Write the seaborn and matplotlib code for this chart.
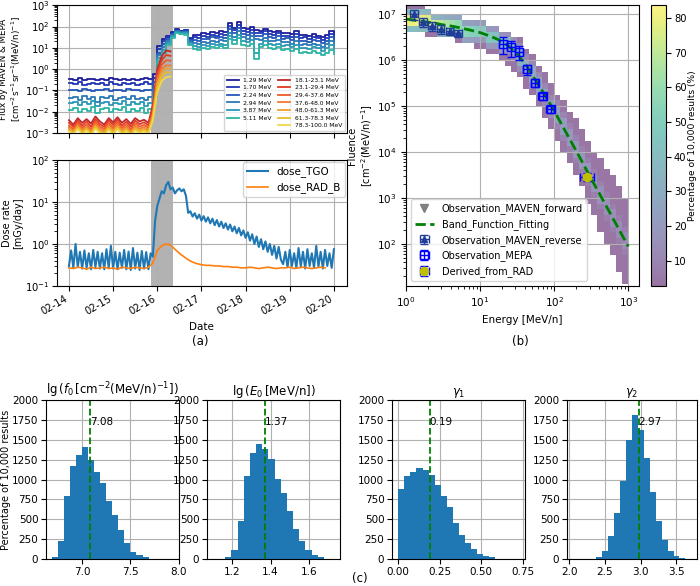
import numpy as np
import pandas as pd
import seaborn as sns
import matplotlib.pyplot as plt
import matplotlib.dates as mdates
from matplotlib.lines import Line2D

plt.rcParams["font.size"] = 7.5

# ---------------- (a) top: flux, MAVEN every 0.1 day from 02-14 00:00 ----------------
maven_labels = ["1.29 MeV", "1.70 MeV", "2.24 MeV", "2.94 MeV", "3.87 MeV", "5.11 MeV"]
maven_colors = ["#1c1c9c", "#1f35b5", "#2456b8", "#2a78b8", "#2a98b5", "#2cb5a5"]
flux_129 = [0.35, 0.32, 0.38, 0.30, 0.33, 0.36, 0.30, 0.34, 0.31, 0.37, 0.33, 0.30, 0.35, 0.32, 0.36, 0.30, 0.34, 0.38, 0.33,
            0.6, 12, 25, 38, 55, 75, 65, 70, 30, 42, 40, 48, 45, 55, 50, 60, 55, 140, 90, 160, 85, 75, 95, 70, 65, 80,
            60, 55, 65, 48, 52, 45, 60, 40, 42, 35, 45, 38, 33, 42, 60, 40]
flux_170 = [0.22, 0.20, 0.24, 0.19, 0.21, 0.23, 0.20, 0.22, 0.19, 0.24, 0.21, 0.19, 0.23, 0.20, 0.22, 0.19, 0.21, 0.24, 0.20,
            0.4, 9, 20, 32, 50, 70, 62, 66, 26, 32, 30, 36, 34, 42, 38, 45, 42, 105, 68, 120, 64, 56, 70, 52, 48, 60,
            45, 41, 48, 36, 38, 33, 44, 29, 31, 26, 33, 28, 24, 30, 45, 30]
flux_224 = [0.10, 0.11, 0.09, 0.12, 0.10, 0.09, 0.11, 0.10, 0.12, 0.09, 0.10, 0.11, 0.09, 0.12, 0.10, 0.11, 0.09, 0.10, 0.11,
            0.25, 6, 15, 26, 45, 65, 58, 60, 22, 24, 22, 27, 25, 31, 28, 33, 30, 75, 50, 88, 46, 40, 52, 38, 35, 44,
            33, 30, 35, 26, 28, 24, 32, 21, 22, 19, 24, 20, 17, 22, 32, 21]
flux_294 = [0.045, 0.05, 0.035, 0.055, 0.04, 0.048, 0.03, 0.05, 0.042, 0.055, 0.035, 0.045, 0.05, 0.038, 0.052, 0.04, 0.046, 0.035, 0.05,
            0.12, 4.5, 11, 21, 40, 60, 55, 54, 19, 17, 15, 19, 17, 21, 19, 23, 21, 52, 34, 60, 31, 27, 35, 26, 24, 30,
            22, 20, 24, 18, 19, 16, 21, 14, 15, 13, 16, 14, 11.5, 15, 21, 14]
flux_387 = [0.025, 0.03, 0.02, 0.028, 0.022, 0.032, 0.018, 0.026, 0.03, 0.021, 0.027, 0.024, 0.031, 0.02, 0.028, 0.023, 0.03, 0.019, 0.026,
            0.08, 3.5, 8, 17, 35, 55, 50, 48, 16, 12, 10.5, 13, 12, 14.5, 13, 16, 14, 36, 24, 42, 21, 18, 24, 6, 16, 20,
            15, 13.5, 16, 12, 13, 11, 14, 9.5, 10, 8.5, 11, 9.5, 7.5, 10, 14, 9]
flux_511 = [0.012, 0.015, 0.01, 0.014, 0.011, 0.016, 0.009, 0.013, 0.015, 0.01, 0.014, 0.012, 0.016, 0.01, 0.013, 0.011, 0.015, 0.009, 0.013,
            0.05, 2.5, 6, 13, 30, 48, 45, 42, 14, 9, 8, 9.5, 9, 10.5, 9.5, 12, 10, 25, 16, 28, 14, 12, 16, 3, 11, 13.5,
            10, 9, 11, 8, 8.5, 7, 9, 6, 6.5, 5.5, 7, 6, 4.8, 6, 8, 5]
maven_flux = [flux_129, flux_170, flux_224, flux_294, flux_387, flux_511]

# MEPA every 0.1 day from 02-14 00:00 to 02-16 07:12
mepa_labels = ["18.1-23.1 MeV", "23.1-29.4 MeV", "29.4-37.6 MeV", "37.6-48.0 MeV",
               "48.0-61.3 MeV", "61.3-78.3 MeV", "78.3-100.0 MeV"]
mepa_colors = ["#c0282a", "#e03a22", "#ee5a2a", "#f07c30", "#f0a030", "#e8bc28", "#f0d848"]
mepa_18 = [0.004, 0.0025, 0.005, 0.003, 0.0045, 0.0028, 0.006, 0.0035, 0.0025, 0.005, 0.0032, 0.0055,
           0.003, 0.0045, 0.0027, 0.005, 0.0035, 0.0042, 0.003, 0.02, 1.0, 4.0, 7.5, 6.8]
mepa_23 = [0.003, 0.002, 0.0038, 0.0022, 0.0035, 0.002, 0.0045, 0.0026, 0.002, 0.004, 0.0024, 0.0042,
           0.0022, 0.0034, 0.002, 0.0038, 0.0026, 0.0032, 0.0023, 0.015, 0.7, 2.6, 4.6, 4.2]
mepa_29 = [0.0022, 0.0016, 0.003, 0.0017, 0.0026, 0.0015, 0.0034, 0.002, 0.0016, 0.003, 0.0018, 0.0032,
           0.0017, 0.0026, 0.0015, 0.0029, 0.002, 0.0024, 0.0018, 0.01, 0.45, 1.6, 2.6, 2.5]
mepa_37 = [0.0018, 0.0013, 0.0024, 0.0014, 0.002, 0.0012, 0.0027, 0.0016, 0.0013, 0.0023, 0.0015, 0.0025,
           0.0014, 0.002, 0.0012, 0.0022, 0.0016, 0.0019, 0.0014, 0.008, 0.3, 1.0, 1.5, 1.5]
mepa_48 = [0.0015, 0.0011, 0.002, 0.0012, 0.0017, 0.001, 0.0022, 0.0013, 0.0011, 0.0019, 0.0012, 0.002,
           0.0012, 0.0016, 0.001, 0.0018, 0.0013, 0.0016, 0.0012, 0.006, 0.2, 0.7, 1.1, 1.05]
mepa_61 = [0.0013, 0.001, 0.0017, 0.001, 0.0015, 0.0009, 0.0019, 0.0011, 0.0009, 0.0016, 0.001, 0.0017,
           0.001, 0.0014, 0.0009, 0.0015, 0.0011, 0.0014, 0.001, 0.005, 0.13, 0.45, 0.72, 0.7]
mepa_78 = [0.0012, 0.0009, 0.0015, 0.0009, 0.0013, 0.0008, 0.0016, 0.001, 0.0008, 0.0014, 0.0009, 0.0015,
           0.0009, 0.0012, 0.0008, 0.0013, 0.001, 0.0012, 0.0009, 0.004, 0.08, 0.28, 0.42, 0.45]
mepa_flux = [mepa_18, mepa_23, mepa_29, mepa_37, mepa_48, mepa_61, mepa_78]

# ---------------- (a) bottom: dose rate ----------------
# TGO every 0.05 day, RAD_B every 0.1 day, both from 02-14 00:00
dose_tgo = [0.3, 0.7, 0.27, 1.0, 0.28, 0.65, 0.26, 0.7, 0.27, 0.6, 0.25, 0.72, 0.28, 0.65, 0.26, 0.6, 0.25, 0.75, 0.27, 0.9,
            0.26, 0.65, 0.25, 0.62, 0.27, 0.72, 0.25, 0.66, 0.24, 0.8, 0.26, 0.62, 0.24, 0.68, 0.26, 0.64, 0.25, 0.6,
            0.5, 3.5, 8, 12, 18, 16, 25, 30, 20, 22, 16, 19, 21, 18, 20, 14, 5.5, 6, 4.5, 5.4, 4.0, 5.0, 3.6,
            4.6, 3.4, 4.3, 3.1, 4.0, 2.8, 3.7, 2.6, 3.4, 2.4, 3.1, 2.2, 2.9, 2.0, 2.6, 1.8, 2.4, 1.6, 2.1, 1.4,
            1.9, 1.2, 1.7, 1.0, 1.5, 0.85, 1.3, 0.75, 1.15, 0.65, 1.0, 0.55, 0.9, 0.45, 0.85, 0.42,
            0.33, 0.65, 0.28, 0.72, 0.3, 0.6, 0.27, 0.8, 0.29, 0.65, 0.26, 0.75, 0.3, 0.6, 0.27, 0.9, 0.29, 0.65,
            0.26, 0.72, 0.3, 0.6, 0.27, 0.75]
dose_rad_b = [0.27, 0.26, 0.28, 0.27, 0.25, 0.28, 0.26, 0.27, 0.28, 0.26, 0.27, 0.25, 0.28, 0.27, 0.26, 0.28, 0.27, 0.26, 0.28,
              0.35, 0.7, 0.9, 1.0, 0.95, 0.75, 0.6, 0.5, 0.42, 0.37, 0.34, 0.32, 0.31, 0.31, 0.30, 0.30, 0.29, 0.29, 0.28,
              0.28, 0.27, 0.27,
              0.28, 0.27, 0.26, 0.27, 0.28, 0.27, 0.26, 0.27, 0.27, 0.28, 0.26, 0.27, 0.28, 0.27, 0.26, 0.27, 0.28, 0.27]

# ---------------- (b) spectrum ----------------
fit_energy = [1.0, 1.33, 1.78, 2.37, 3.16, 4.22, 5.62, 7.5, 10, 13.3, 17.8, 23.7, 31.6, 42.2, 56.2, 75,
              100, 133, 178, 237, 316, 422, 562, 750, 1000]
fit_fluence = [7.9e6, 7.4e6, 6.9e6, 6.5e6, 5.9e6, 5.5e6, 5.0e6, 4.5e6, 4.0e6, 3.4e6, 2.8e6, 2.1e6, 1.38e6,
               7.6e5, 3.6e5, 1.74e5, 7.9e4, 3.4e4, 1.45e4, 6.2e3, 2.6e3, 1.12e3, 480, 204, 87]
maven_e = [1.29, 1.70, 2.24, 2.94, 3.87, 5.11]
maven_e_err = [0.15, 0.2, 0.25, 0.33, 0.45, 0.6]
maven_fluence = [1.0e7, 6.8e6, 5.5e6, 4.8e6, 4.3e6, 3.9e6]
maven_fluence_err = [2.5e6, 1.5e6, 1.2e6, 1.0e6, 0.8e6, 0.7e6]
mepa_e = [20.6, 26.2, 33.5, 42.8, 54.6, 69.8, 89.2]
mepa_e_lo = [18.1, 23.1, 29.4, 37.6, 48.0, 61.3, 78.3]
mepa_e_hi = [23.1, 29.4, 37.6, 48.0, 61.3, 78.3, 100.0]
mepa_fluence = [2.3e6, 1.9e6, 1.5e6, 6.3e5, 3.2e5, 1.65e5, 8.5e4]
mepa_fluence_err = [9e5, 7e5, 5e5, 1.5e5, 6e4, 3e4, 1.5e4]
rad_e, rad_e_err = [280], [60]
rad_fluence, rad_fluence_err = [2.9e3], [600]

# 2D distribution of 10,000 fits: per energy column (12 per decade), log10 fluence extents
band_hi = [7.2, 7.2, 7.2, 7.05, 7.05, 7.05, 6.95, 6.95, 6.9, 6.85, 6.85, 6.8, 6.75, 6.7, 6.7, 6.62, 6.6, 6.5,
           6.45, 6.3, 6.1, 5.9, 5.7, 5.5, 5.3, 5.1, 4.9, 4.7, 4.45, 4.25, 4.05, 3.85, 3.65, 3.45, 3.25, 3.05]
band_lo = [6.6, 6.6, 6.6, 6.55, 6.5, 6.5, 6.45, 6.45, 6.4, 6.35, 6.35, 6.3, 6.2, 6.15, 6.1, 6.0, 5.9, 5.8,
           5.6, 5.4, 5.2, 5.0, 4.8, 4.55, 4.3, 4.0, 3.75, 3.45, 3.2, 2.9, 2.6, 2.3, 2.0, 1.7, 1.4, 1.1]
core_hi = [7.0, 6.98, 6.96, 6.94, 6.92, 6.9, 6.88, 6.85, 6.82, 6.8, 6.77, 6.74, 6.7, 6.65, 6.6, 6.53, 6.45,
           6.33, 6.2, 6.02, 5.82, 5.6, 5.4, 5.17, 4.94, 4.69, 4.45, 4.21, 3.96, 3.71, 3.47, 3.22, 2.97, 2.73, 2.48, 2.23]
core_lo = [6.78, 6.76, 6.74, 6.72, 6.7, 6.67, 6.64, 6.62, 6.6, 6.56, 6.53, 6.5, 6.46, 6.41, 6.36, 6.29, 6.2,
           6.07, 5.92, 5.74, 5.52, 5.3, 5.08, 4.85, 4.62, 4.37, 4.11, 3.87, 3.62, 3.37, 3.13, 2.88, 2.63, 2.39, 2.14, 1.89]
core_pct = [80, 80, 78, 76, 74, 70, 66, 62, 58, 55, 52, 50, 48, 45, 42, 40, 38, 35, 33, 30, 28, 26, 25, 24,
            22, 21, 20, 19, 18, 18, 17, 16, 15, 15, 14, 13]
halo_pct = [40, 40, 38, 36, 35, 33, 30, 28, 26, 24, 22, 21, 20, 19, 18, 17, 16, 15, 14, 13, 12, 12, 11, 11,
            10, 10, 9, 9, 9, 8, 8, 8, 7, 7, 7, 7]
edge_pct = 4

# ---------------- (c) histograms of fitted parameters ----------------
f0_left, f0_width, f0_mean = 6.687, 0.0625, 7.08
f0_counts = [20, 230, 800, 1170, 1310, 1410, 1250, 1100, 960, 730, 560, 370, 200, 90, 50, 20, 5]
e0_left, e0_width, e0_mean = 1.165, 0.032, 1.37
e0_counts = [20, 110, 480, 1050, 1330, 1450, 1380, 1260, 1010, 830, 600, 380, 230, 120, 50, 20, 5]
g1_left, g1_width, g1_mean = 0.0, 0.0366, 0.19
g1_counts = [880, 1040, 1100, 1150, 1120, 1060, 930, 790, 650, 460, 300, 200, 130, 60, 40, 20, 5]
g2_left, g2_width, g2_mean = 2.38, 0.083, 2.97
g2_counts = [20, 100, 290, 580, 980, 1500, 1820, 1620, 1270, 850, 480, 240, 100, 40, 15, 5]

# ================= figure =================
fig = plt.figure(figsize=(7.0, 5.86), dpi=100)
t0 = pd.Timestamp("2022-02-14")

ax_flux = fig.add_axes([0.0814, 0.773, 0.414, 0.218])
ax_dose = fig.add_axes([0.0814, 0.512, 0.414, 0.215], sharex=ax_flux)

for ax in (ax_flux, ax_dose):
    ax.axvspan(t0 + pd.Timedelta(days=1.86), t0 + pd.Timedelta(days=2.36), color="gray", alpha=0.6, lw=0)

for vals, lab, col in zip(maven_flux, maven_labels, maven_colors):
    t = t0 + pd.to_timedelta(np.arange(len(vals)) * 2.4, unit="h")
    sns.lineplot(x=t, y=vals, ax=ax_flux, color=col, lw=1.3, drawstyle="steps-post", label=lab)
for vals, lab, col in zip(mepa_flux, mepa_labels, mepa_colors):
    t = t0 + pd.to_timedelta(np.arange(len(vals)) * 2.4, unit="h")
    sns.lineplot(x=t, y=vals, ax=ax_flux, color=col, lw=1.3, label=lab)
ax_flux.set_yscale("log")
ax_flux.set_ylim(1e-3, 1e3)
ax_flux.grid(True)
ax_flux.set_xlabel("")
ax_flux.set_ylabel("Flux by MAVEN & MEPA\n[cm$^{-2}$s$^{-1}$sr$^{-1}$(MeV/n)$^{-1}$]", fontsize=6.3, labelpad=1)
ax_flux.tick_params(labelbottom=False, labelsize=7.2, pad=2)
h, l = ax_flux.get_legend_handles_labels()
blank = Line2D([], [], color="none")
h = h[:6] + [blank] + h[6:]
l = l[:6] + [""] + l[6:]
ax_flux.legend(h, l, ncol=2, fontsize=4.3, loc="lower right", handlelength=2.0,
               columnspacing=1.0, labelspacing=0.4, borderpad=0.5, borderaxespad=0.3)

t_tgo = t0 + pd.to_timedelta(np.arange(len(dose_tgo)) * 1.2, unit="h")
t_rad = t0 + pd.to_timedelta(np.arange(len(dose_rad_b)) * 2.4, unit="h")
sns.lineplot(x=t_tgo, y=dose_tgo, ax=ax_dose, color="#1f77b4", lw=1.5, label="dose_TGO")
sns.lineplot(x=t_rad, y=dose_rad_b, ax=ax_dose, color="#ff7f0e", lw=1.2, label="dose_RAD_B")
ax_dose.set_yscale("log")
ax_dose.set_ylim(1e-1, 1e2)
ax_dose.grid(True)
ax_dose.legend(loc="upper right", fontsize=7.5, borderaxespad=0.2)
ax_dose.set_ylabel("Dose rate\n[mGy/day]", fontsize=7, labelpad=1)
ax_dose.set_xlabel("Date", fontsize=7.5)
ax_dose.tick_params(labelsize=7.2, pad=2)
ax_dose.set_xlim(t0 - pd.Timedelta(hours=6.5), t0 + pd.Timedelta(days=6, hours=7))
ax_dose.xaxis.set_major_locator(mdates.DayLocator())
ax_dose.xaxis.set_major_formatter(mdates.DateFormatter("%m-%d"))
plt.setp(ax_dose.get_xticklabels(), rotation=30, ha="right")

# ---- (b) ----
ax_b = fig.add_axes([0.58, 0.512, 0.333, 0.4795])
cax = fig.add_axes([0.93, 0.512, 0.022, 0.4795])
e_edges = np.logspace(0, 3, 37)
f_edges = np.logspace(1, 7.25, 51)
f_mid = np.log10(np.sqrt(f_edges[:-1] * f_edges[1:]))
grid = np.zeros((len(f_mid), len(band_hi)))
for i in range(len(band_hi)):
    grid[(f_mid >= band_lo[i]) & (f_mid <= band_hi[i]), i] = edge_pct
    grid[(f_mid >= core_lo[i] - 0.13) & (f_mid <= core_hi[i] + 0.13), i] = halo_pct[i]
    grid[(f_mid >= core_lo[i]) & (f_mid <= core_hi[i]), i] = core_pct[i]
grid = np.ma.masked_equal(grid, 0)
mesh = ax_b.pcolormesh(e_edges, f_edges, grid, cmap="viridis", vmin=2.8, vmax=83.7, alpha=0.55)

sns.lineplot(x=fit_energy, y=fit_fluence, ax=ax_b, color="green", lw=2, ls="--")
h_fit = ax_b.get_lines()[-1]
h_rev = ax_b.errorbar(maven_e, maven_fluence, xerr=maven_e_err, yerr=maven_fluence_err, fmt="^",
                      color="#1f3d99", ms=5, capsize=3, lw=1)
mepa_xerr = [np.subtract(mepa_e, mepa_e_lo), np.subtract(mepa_e_hi, mepa_e)]
h_mepa = ax_b.errorbar(mepa_e, mepa_fluence, xerr=mepa_xerr, yerr=mepa_fluence_err, fmt="s",
                       color="blue", mfc="none", ms=6, capsize=3, lw=1)
h_rad = ax_b.errorbar(rad_e, rad_fluence, xerr=rad_e_err, yerr=rad_fluence_err, fmt="o",
                      color="y", ecolor="blue", ms=6, capsize=3, lw=1, zorder=5)
h_fwd = Line2D([], [], marker="v", color="gray", ls="none", ms=6)
ax_b.set_xscale("log")
ax_b.set_yscale("log")
ax_b.set_xlim(1, 1400)
ax_b.set_ylim(12, 1.6e7)
ax_b.grid(True)
ax_b.tick_params(labelsize=7.5)
ax_b.set_xlabel("Energy [MeV/n]", fontsize=7.5)
ax_b.set_ylabel("Fluence\n[cm$^{-2}$(MeV/n)$^{-1}$]", fontsize=7, labelpad=1)
ax_b.legend([h_fwd, h_fit, h_rev, h_mepa, h_rad],
            ["Observation_MAVEN_forward", "Band_Function_Fitting", "Observation_MAVEN_reverse",
             "Observation_MEPA", "Derived_from_RAD"], loc="lower left", fontsize=7)
cb = fig.colorbar(mesh, cax=cax)
cb.set_ticks(range(10, 90, 10))
cb.ax.tick_params(labelsize=7.2, pad=2)
cb.set_label("Percentage of 10,000 results (%)", fontsize=6.6, labelpad=1)

# ---- (c) ----
hists = [
    (f0_left, f0_width, f0_counts, f0_mean, r"lg$\,(f_0\,[\mathrm{cm}^{-2}(\mathrm{MeV/n})^{-1}])$",
     (6.63, 8.0), [7.0, 7.5, 8.0], [0.0657, 0.046, 0.19, 0.271]),
    (e0_left, e0_width, e0_counts, e0_mean, r"lg$\,(E_0\,[\mathrm{MeV/n}])$",
     (1.07, 1.76), [1.2, 1.4, 1.6], [0.2957, 0.046, 0.19, 0.271]),
    (g1_left, g1_width, g1_counts, g1_mean, r"$\gamma_1$",
     (-0.038, 0.765), [0.0, 0.25, 0.5, 0.75], [0.56, 0.046, 0.19, 0.271]),
    (g2_left, g2_width, g2_counts, g2_mean, r"$\gamma_2$",
     (1.97, 3.79), [2.0, 2.5, 3.0, 3.5], [0.81, 0.046, 0.186, 0.271]),
]
for k, (left, width, counts, mean, title, xlim, xticks, rect) in enumerate(hists):
    ax = fig.add_axes(rect)
    edges = [left + width * j for j in range(len(counts) + 1)]
    hist_df = pd.DataFrame({"value": [(a + b) / 2 for a, b in zip(edges[:-1], edges[1:])], "count": counts})
    sns.histplot(data=hist_df, x="value", weights="count", bins=edges, ax=ax,
                 color="#1f77b4", alpha=1, linewidth=0)
    ax.axvline(mean, color="green", ls="--", lw=1.3)
    ax.text(mean, 1690, f"{mean:.2f}", fontsize=7.5)
    ax.set_xlim(*xlim)
    ax.set_xticks(xticks)
    ax.set_ylim(0, 2000)
    ax.set_yticks(np.arange(0, 2001, 250))
    ax.tick_params(labelsize=7.5, pad=2)
    ax.grid(True)
    ax.set_axisbelow(True)
    ax.set_title(title, fontsize=8.5, pad=3)
    ax.set_xlabel("")
    ax.set_ylabel("Percentage of 10,000 results" if k == 0 else "", fontsize=7, labelpad=1)

fig.text(0.286, 0.418, "(a)", ha="center", va="center", fontsize=8.5)
fig.text(0.743, 0.418, "(b)", ha="center", va="center", fontsize=8.5)
fig.text(0.514, 0.012, "(c)", ha="center", va="center", fontsize=8.5)

plt.savefig("out.png", dpi=100)
